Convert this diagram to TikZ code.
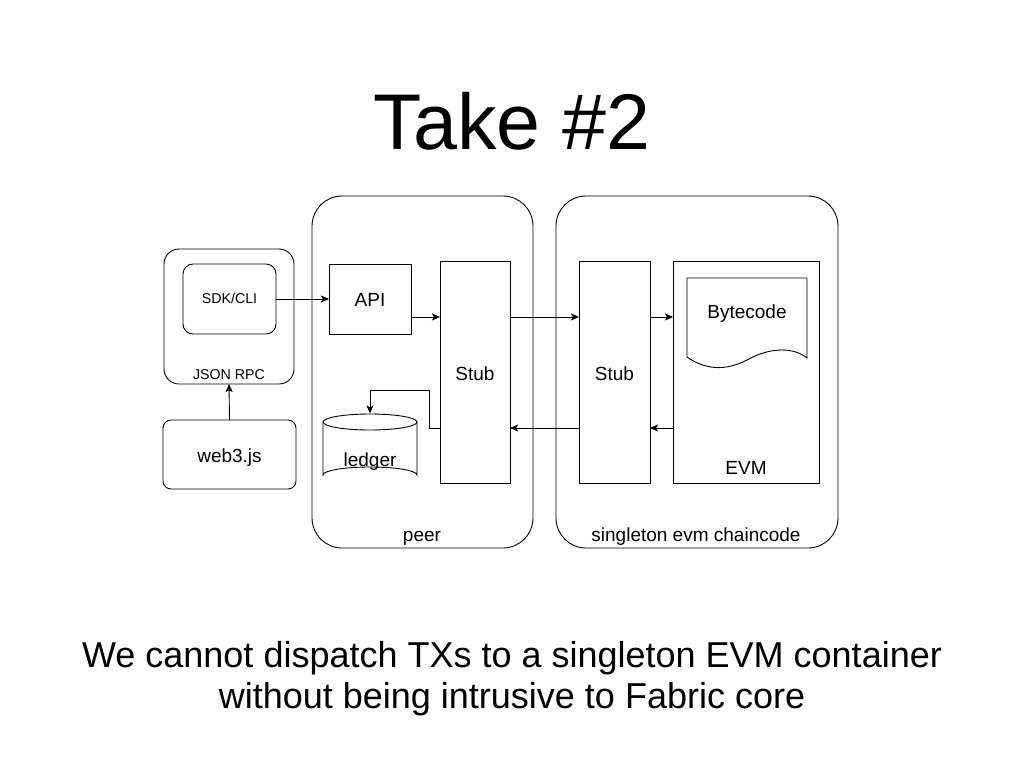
\documentclass[tikz,border=0pt]{standalone}
\usepackage{fontspec}
\setmainfont{Liberation Sans}
\usetikzlibrary{arrows.meta,calc}
\begin{document}
\begin{tikzpicture}[x=1pt,y=-1pt,
  line width=0.9pt,
  every node/.style={inner sep=0pt, outer sep=0pt},
  big/.style={font=\fontsize{19}{22}\selectfont},
  small/.style={font=\fontsize{14.2}{17}\selectfont},
  lbl/.style={anchor=base},
  sqbox/.style={draw},
  rbox/.style={draw, rounded corners=#1},
  arr/.style={-{Stealth[length=8pt,width=7pt,inset=1.8pt]}}
]
\useasboundingbox (0,0) rectangle (1024,768);
\fill[white] (0,0) rectangle (1024,768);

% title
\node[anchor=base, font=\fontsize{79}{92}\selectfont] (title) at (512,149) {Take \#2};

% left client
\node[rbox=15pt, minimum width=130pt, minimum height=135pt] (json) at (229,316.5) {};
\node[rbox=10pt, minimum width=93pt, minimum height=70pt] (sdk) at (229.5,299) {};
\node[small, lbl] (sdklbl) at (229.5,303) {SDK/CLI};
\node[small, lbl] (jsonlbl) at (229,379) {JSON RPC};
\node[rbox=8pt, minimum width=133pt, minimum height=69pt] (web3) at (229.5,454.5) {};
\node[big, lbl] (web3lbl) at (229.5,462) {web3.js};

% peer
\node[rbox=30pt, minimum width=221pt, minimum height=352pt] (peer) at (422.5,372) {};
\node[big, lbl] (peerlbl) at (422,541) {peer};
\node[sqbox, minimum width=82pt, minimum height=70pt] (api) at (370,299) {};
\node[big, lbl] (apilbl) at (370,306) {API};
\node[sqbox, minimum width=70pt, minimum height=222pt] (stubA) at (475,372) {};
\node[big, lbl] (stubAlbl) at (475,380) {Stub};
\node[minimum width=94pt, minimum height=70pt] (ledger) at (370,448.5) {};
\draw (323,422) -- (323,475) arc[start angle=180, end angle=360, x radius=47, y radius=8] -- (417,422);
\draw (370,422) ellipse[x radius=47, y radius=8];
\node[big, lbl] (ledgerlbl) at (370,466) {ledger};

% chaincode
\node[rbox=30pt, minimum width=282pt, minimum height=352pt] (chain) at (697,372) {};
\node[big, lbl] (chainlbl) at (696,541) {singleton evm chaincode};
\node[sqbox, minimum width=71pt, minimum height=222pt] (stubB) at (614.5,372) {};
\node[big, lbl] (stubBlbl) at (614.5,380) {Stub};
\node[draw, minimum width=146pt, minimum height=222pt] (evm) at (746,372) {};
\node[big, lbl] (evmlbl) at (746,474) {EVM};
\draw (687,278) -- (807,278) -- (807,358)
  .. controls (795,348) and (772,346) .. (747,360)
  .. controls (720,374) and (700,366) .. (687,357) -- cycle;
\node[big, lbl] (bytecode) at (747,318) {Bytecode};

% connectors
\coordinate (ytop) at (0,317);
\coordinate (ybot) at (0,428);
\coordinate (bend) at (429,390);
\draw[arr] (web3.north) -- (json.south);
\draw[arr] (sdk.east) -- (api.west);
\draw[arr] (api.east |- ytop) -- (stubA.west |- ytop);
\draw[arr] (stubA.east |- ytop) -- (stubB.west |- ytop);
\draw[arr] (stubB.east |- ytop) -- (evm.west |- ytop);
\draw[arr] (evm.west |- ybot) -- (stubB.east |- ybot);
\draw[arr] (stubB.west |- ybot) -- (stubA.east |- ybot);
\draw[arr] (stubA.west |- ybot) -| (bend) -| (ledger.north);

% caption
\node[anchor=base, font=\fontsize{36}{42}\selectfont] (cap1) at (512,667) {We cannot dispatch TXs to a singleton EVM container};
\node[anchor=base, font=\fontsize{36}{42}\selectfont] (cap2) at (512,708) {without being intrusive to Fabric core};
\end{tikzpicture}
\end{document}
